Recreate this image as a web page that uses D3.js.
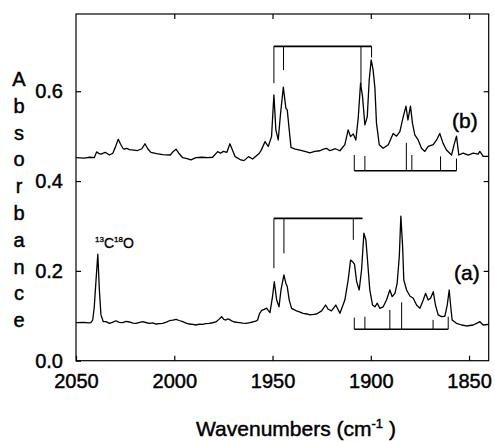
<!DOCTYPE html>
<html>
<head>
<meta charset="utf-8">
<script src="https://cdn.jsdelivr.net/npm/d3@7"></script>
<style>
  body { margin: 0; background: #fff; }
  svg { display: block; }
  text { font-family: "Liberation Sans", Arial, sans-serif; fill: #000; stroke: #000; stroke-width: 0.45px; }
  .axis text { font-size: 20px; }
  .axis line { stroke: #000; stroke-width: 1.2; }
  .spectrum { fill: none; stroke: #000; stroke-width: 1.3; stroke-linejoin: round; }
  .stick { stroke: #000; stroke-width: 1; }
  .bar { stroke: #000; stroke-width: 1.6; }
</style>
</head>
<body>
<div id="chart"></div>
<script>
// spectra: [wavenumber, absorbance]
const spectrumB = [
  [2050, 0.452], [2046, 0.451], [2043, 0.453], [2040.7, 0.452], [2039.5, 0.465], [2038.2, 0.461],
  [2037.3, 0.460], [2035.1, 0.464], [2033, 0.458], [2031.3, 0.462], [2030, 0.475], [2028.5, 0.493],
  [2027.3, 0.482], [2026, 0.472], [2025.4, 0.471], [2024.2, 0.473], [2022.9, 0.470], [2020.5, 0.469],
  [2018.6, 0.468], [2016.5, 0.472], [2014.9, 0.483], [2013.5, 0.472], [2011.9, 0.464], [2009, 0.461],
  [2005.9, 0.459], [2002, 0.458], [2000.5, 0.466], [1999.1, 0.471], [1997.7, 0.462], [1995.7, 0.452],
  [1993.5, 0.450], [1991.5, 0.447], [1989, 0.452], [1986, 0.453], [1983, 0.452], [1980.5, 0.453],
  [1977.9, 0.4655], [1976.5, 0.462], [1975, 0.466], [1973.2, 0.464], [1971.7, 0.483], [1970.3, 0.468],
  [1969, 0.4544], [1966.1, 0.447], [1964.5, 0.4455], [1962.2, 0.4544], [1960.1, 0.449], [1958.5, 0.455],
  [1956.7, 0.462], [1955.6, 0.470], [1953.8, 0.488], [1952.2, 0.477], [1950.5, 0.499], [1949.3, 0.592],
  [1948.3, 0.514], [1947.1, 0.4915], [1945.9, 0.551], [1944.5, 0.609], [1943.2, 0.562], [1942.5, 0.5585],
  [1941.5, 0.514], [1940.6, 0.475], [1938.5, 0.471], [1936.1, 0.469], [1933.5, 0.466], [1931, 0.463],
  [1928.5, 0.466], [1925.9, 0.4675], [1924, 0.471], [1922.5, 0.473], [1921, 0.468], [1920, 0.469],
  [1918, 0.472], [1915.7, 0.4675], [1913.2, 0.481], [1911.5, 0.514], [1910.3, 0.499], [1908.9, 0.505],
  [1907.6, 0.4915], [1906.4, 0.540], [1905.2, 0.618], [1904.2, 0.588], [1903, 0.525], [1901.8, 0.543],
  [1900.8, 0.625], [1899.8, 0.670], [1898.8, 0.647], [1897.9, 0.607], [1897.1, 0.529], [1895.7, 0.481],
  [1893.7, 0.473], [1891.1, 0.481], [1888.6, 0.506], [1886.9, 0.500], [1885.2, 0.510], [1883.5, 0.543],
  [1882.1, 0.567], [1881.1, 0.536], [1879.8, 0.567], [1878.8, 0.529], [1877.6, 0.503], [1875.9, 0.4915],
  [1874.2, 0.473], [1872.5, 0.466], [1870.8, 0.477], [1868.2, 0.481], [1866.5, 0.4915], [1864.9, 0.506],
  [1863.2, 0.484], [1861.5, 0.469], [1858.9, 0.458], [1857.6, 0.481], [1856.4, 0.500], [1855.2, 0.458],
  [1853, 0.462], [1850.4, 0.458], [1847.9, 0.462], [1845.4, 0.460], [1844.5, 0.466], [1842.8, 0.455],
  [1840, 0.455]
]

const spectrumA = [
  [2050, 0.0847], [2046, 0.0855], [2043.5, 0.084], [2042.4, 0.0847], [2041.5, 0.0906], [2040.7, 0.120],
  [2039.8, 0.180], [2038.9, 0.237], [2038.1, 0.157], [2037.3, 0.102], [2036.1, 0.0869], [2034.7, 0.0869],
  [2033, 0.0832], [2031.5, 0.0855], [2029.7, 0.089], [2028, 0.0855], [2026.3, 0.0847], [2024.5, 0.0875],
  [2022.9, 0.0862], [2021, 0.0835], [2019.5, 0.0832], [2017.5, 0.0855], [2016.1, 0.0869], [2014, 0.0845],
  [2012.7, 0.0832], [2011, 0.084], [2009.3, 0.0817], [2007.5, 0.0825], [2005.9, 0.0832], [2004, 0.086],
  [2002.5, 0.089], [2000.7, 0.0905], [1999.1, 0.0921], [1997.5, 0.0895], [1995.7, 0.0869], [1994, 0.0835],
  [1992.4, 0.0817], [1990.5, 0.081], [1989, 0.0795], [1987.2, 0.0815], [1985.6, 0.081], [1984, 0.0825],
  [1982.2, 0.0832], [1980.5, 0.0845], [1978.8, 0.0862], [1977.3, 0.092], [1975.9, 0.098], [1974.8, 0.092],
  [1973.7, 0.0906], [1972.9, 0.093], [1972, 0.0921], [1970.5, 0.088], [1969.5, 0.0862], [1966.9, 0.0847],
  [1965, 0.0835], [1963.5, 0.0832], [1961.5, 0.085], [1960.1, 0.0862], [1958.5, 0.088], [1957.6, 0.0906],
  [1956.6, 0.105], [1955.5, 0.112], [1954.2, 0.1144], [1953, 0.117], [1952.2, 0.112], [1951.3, 0.107],
  [1950, 0.1425], [1949.1, 0.176], [1947.9, 0.135], [1946.7, 0.120], [1945.7, 0.1575], [1944.2, 0.191],
  [1943.2, 0.172], [1942.5, 0.165], [1941.5, 0.135], [1940.3, 0.1166], [1937.8, 0.111], [1936, 0.108],
  [1934.4, 0.1055], [1932.5, 0.104], [1931, 0.102], [1929, 0.103], [1927.6, 0.104], [1925, 0.111],
  [1923, 0.124], [1921.7, 0.1145], [1920, 0.111], [1917.8, 0.124], [1915.7, 0.1055], [1913.2, 0.135],
  [1911.5, 0.180], [1910.3, 0.224], [1909.3, 0.2205], [1908.3, 0.215], [1907.2, 0.176], [1905.9, 0.1575],
  [1904.7, 0.202], [1903.5, 0.284], [1902.5, 0.269], [1901.8, 0.2316], [1900.5, 0.1575], [1899.1, 0.124],
  [1897.9, 0.120], [1896.7, 0.128], [1895.4, 0.1166], [1893.7, 0.120], [1892, 0.135], [1890.3, 0.1575],
  [1889.1, 0.1425], [1887.7, 0.150], [1886.6, 0.172], [1885.5, 0.2316], [1884.7, 0.322], [1883.8, 0.254],
  [1883.2, 0.180], [1881.8, 0.1575], [1880.1, 0.144], [1878.4, 0.139], [1876.7, 0.124], [1875, 0.1166],
  [1873.3, 0.135], [1872.1, 0.150], [1870.8, 0.135], [1869.6, 0.139], [1868.2, 0.1537], [1867.1, 0.124],
  [1865.7, 0.102], [1864, 0.098], [1862.3, 0.099], [1861.1, 0.124], [1860.1, 0.1575], [1859.4, 0.124],
  [1858.6, 0.0906], [1856.4, 0.0832], [1853.8, 0.0795], [1851.3, 0.0773], [1847.9, 0.0795], [1845.4, 0.0847],
  [1844.5, 0.0869], [1842.8, 0.0795], [1840, 0.081]
]

// stick-spectrum brackets: bar level, bar ends, sticks [wavenumber, stick end]
const bracketsB = [
  { level: 0.700, from: 1949.3, to: 1899.6, sticks: [[1949.3, 0.618], [1944.4, 0.647], [1905.0, 0.614], [1899.6, 0.675]] },
  { level: 0.423, from: 1908.4, to: 1856.4, sticks: [[1908.4, 0.458], [1903.0, 0.456], [1881.9, 0.485], [1879.1, 0.458], [1864.5, 0.455], [1856.4, 0.450]] }
]
const bracketsA = [
  { level: 0.317, from: 1949.3, to: 1904.2, sticks: [[1949.3, 0.206], [1944.2, 0.239], [1908.9, 0.269]] },
  { level: 0.070, from: 1908.4, to: 1860.6, sticks: [[1908.4, 0.096], [1903.0, 0.098], [1890.3, 0.113], [1884.3, 0.130], [1868.3, 0.091], [1860.6, 0.098]] }
]

const xTicks = [2050, 2000, 1950, 1900, 1850]
const yTicks = [0, 0.2, 0.4, 0.6]
const yLetters = "Absorbance".split("")

const xAccessor = d => d[0]
const yAccessor = d => d[1]

let dimensions = {
  width: 495,
  height: 441,
  margin: { top: 14, right: 6.3, bottom: 80.3, left: 76 },
}
dimensions.boundedWidth = dimensions.width - dimensions.margin.left - dimensions.margin.right
dimensions.boundedHeight = dimensions.height - dimensions.margin.top - dimensions.margin.bottom

const wrapper = d3.select("#chart")
  .append("svg")
    .attr("width", dimensions.width)
    .attr("height", dimensions.height)

const bounds = wrapper.append("g")
  .attr("transform", `translate(${dimensions.margin.left},${dimensions.margin.top})`)

// scales (wavenumber axis runs right to left)
const xScale = d3.scaleLinear()
  .domain([2050, 1840])
  .range([0, dimensions.boundedWidth])

const yScale = d3.scaleLinear()
  .domain([0, 0.772])
  .range([dimensions.boundedHeight, 0])

// spectra
const lineGenerator = d3.line()
  .x(d => xScale(xAccessor(d)))
  .y(d => yScale(yAccessor(d)))

bounds.append("path").attr("class", "spectrum").attr("d", lineGenerator(spectrumB))
bounds.append("path").attr("class", "spectrum").attr("d", lineGenerator(spectrumA))

// brackets
const drawBrackets = (brackets) => {
  brackets.forEach(b => {
    bounds.append("line")
      .attr("class", "bar")
      .attr("x1", xScale(b.from))
      .attr("x2", xScale(b.to))
      .attr("y1", yScale(b.level))
      .attr("y2", yScale(b.level))
    bounds.selectAll(null)
      .data(b.sticks)
      .enter().append("line")
        .attr("class", "stick")
        .attr("x1", d => xScale(d[0]))
        .attr("x2", d => xScale(d[0]))
        .attr("y1", yScale(b.level))
        .attr("y2", d => yScale(d[1]))
  })
}
drawBrackets(bracketsB)
drawBrackets(bracketsA)

// frame
bounds.append("rect")
  .attr("width", dimensions.boundedWidth)
  .attr("height", dimensions.boundedHeight)
  .attr("fill", "none")
  .attr("stroke", "#000")
  .attr("stroke-width", 1.2)

// axes, ticks pointing inward
const xAxis = bounds.append("g")
  .attr("class", "axis")
  .attr("transform", `translate(0,${dimensions.boundedHeight})`)
  .call(d3.axisBottom(xScale).tickValues(xTicks).tickSize(-5).tickPadding(13).tickFormat(d3.format("d")))
xAxis.select(".domain").remove()

const xAxisTop = bounds.append("g")
  .attr("class", "axis")
  .call(d3.axisTop(xScale).tickValues(xTicks.slice(1)).tickSize(-5).tickFormat(""))
xAxisTop.select(".domain").remove()

const yAxis = bounds.append("g")
  .attr("class", "axis")
  .call(d3.axisLeft(yScale).tickValues(yTicks).tickSize(-5).tickPadding(13).tickFormat(d3.format(".1f")))
yAxis.select(".domain").remove()

const yAxisRight = bounds.append("g")
  .attr("class", "axis")
  .attr("transform", `translate(${dimensions.boundedWidth},0)`)
  .call(d3.axisRight(yScale).tickValues(yTicks.slice(1)).tickSize(-5).tickFormat(""))
yAxisRight.select(".domain").remove()

// axis labels
const xLabel = wrapper.append("text")
  .attr("x", 296)
  .attr("y", 436)
  .attr("text-anchor", "middle")
  .style("font-size", "21px")
xLabel.append("tspan").text("Wavenumbers (cm")
xLabel.append("tspan").attr("dy", -8).style("font-size", "13px").text("-1")
xLabel.append("tspan").attr("dy", 8).text(" )")

wrapper.append("g")
  .selectAll("text")
  .data(yLetters)
  .enter().append("text")
    .attr("x", 19)
    .attr("y", (d, i) => 86 + i * 26.8)
    .attr("text-anchor", "middle")
    .style("font-size", "20px")
    .text(d => d)

// series labels
wrapper.append("text")
  .attr("x", 452).attr("y", 128)
  .style("font-size", "21px")
  .text("(b)")
wrapper.append("text")
  .attr("x", 454).attr("y", 280)
  .style("font-size", "21px")
  .text("(a)")

const isoLabel = wrapper.append("text")
  .attr("x", 95).attr("y", 248)
  .style("font-size", "14px")
  .style("stroke-width", "0.3px")
isoLabel.append("tspan").attr("dy", -6).style("font-size", "8px").text("13")
isoLabel.append("tspan").attr("dy", 6).text("C")
isoLabel.append("tspan").attr("dy", -6).style("font-size", "8px").text("18")
isoLabel.append("tspan").attr("dy", 6).text("O")
</script>
</body>
</html>
